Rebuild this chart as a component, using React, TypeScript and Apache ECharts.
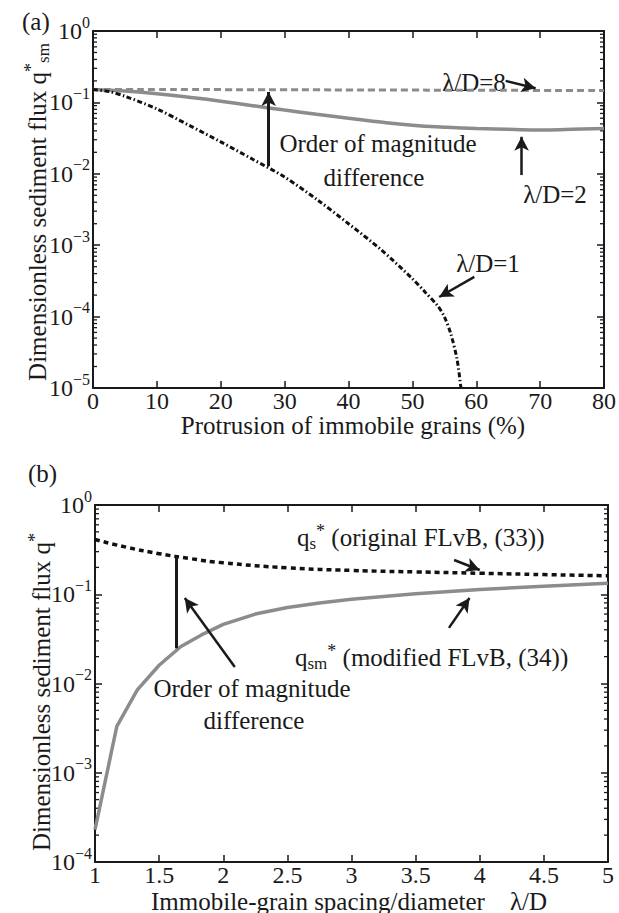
import React, { useEffect, useRef } from 'react';
import * as echarts from 'echarts';

const FONT = 'Liberation Serif';
const INK = '#1a1a1a';
const GRAY = '#8c8c8c';

// ---------- Panel (a) data ----------
const XA_L1 = [0, 2.5, 5, 10, 15, 20, 25, 30, 35, 40, 45, 50, 52, 54, 55, 56, 57, 57.6];
const QA_L1 = [0.152, 0.142, 0.122, 0.081, 0.048, 0.028, 0.016, 0.009, 0.0044, 0.002, 0.00088, 0.00034, 0.00022, 0.00014, 0.0001, 0.000058, 0.000025, 0.00001];
const XA = [0, 5, 10, 15, 20, 25, 30, 35, 40, 45, 50, 55, 60, 65, 70, 75, 80];
const QA_L2 = [0.152, 0.144, 0.132, 0.118, 0.104, 0.09, 0.078, 0.068, 0.06, 0.053, 0.048, 0.045, 0.043, 0.042, 0.041, 0.042, 0.043];
const QA_L8 = [0.152, 0.152, 0.152, 0.151, 0.151, 0.15, 0.15, 0.15, 0.149, 0.149, 0.149, 0.148, 0.148, 0.148, 0.147, 0.147, 0.147];

// ---------- Panel (b) data ----------
const XB_S = [1, 1.25, 1.5, 1.75, 2, 2.5, 3, 3.5, 4, 4.5, 5];
const QB_S = [0.41, 0.335, 0.285, 0.25, 0.225, 0.198, 0.185, 0.178, 0.172, 0.166, 0.161];
const XB_M = [1, 1.17, 1.33, 1.5, 1.67, 1.83, 2, 2.25, 2.5, 2.75, 3, 3.5, 4, 4.5, 5];
const QB_M = [0.00023, 0.0033, 0.0085, 0.016, 0.026, 0.035, 0.046, 0.06, 0.071, 0.08, 0.088, 0.101, 0.113, 0.123, 0.133];

// axis decoration
const MINOR_MULT = [2, 3, 4, 5, 6, 7, 8, 9];
const DECADES_A = [-5, -4, -3, -2, -1];
const DECADES_B = [-4, -3, -2, -1];

const pairs = (xs: number[], ys: number[]) => xs.map((x, i) => [x, ys[i]]);

const rich = {
  n: { fontSize: 25, fontFamily: FONT, color: INK, fill: INK, lineHeight: 30 },
  sup: { fontSize: 18, fontFamily: FONT, color: INK, fill: INK, verticalAlign: 'top', lineHeight: 18 },
  sub: { fontSize: 17, fontFamily: FONT, color: INK, fill: INK, verticalAlign: 'bottom', lineHeight: 17 },
};

const txt = (x: number, y: number, text: string, align = 'center', rotation = 0) => ({
  type: 'text',
  x,
  y,
  rotation,
  silent: true,
  style: {
    text,
    fill: INK,
    fontSize: 25,
    fontFamily: FONT,
    align,
    verticalAlign: 'middle',
    rich,
  },
});

const logLabel = (v: number) => {
  const n = Math.round(Math.log10(v));
  return `{b|10}{e|${n === 0 ? '0' : '\u2212' + Math.abs(n)}}`;
};

const axisLine = { show: true, onZero: false, lineStyle: { color: INK, width: 2 } };
const tick = { show: true, inside: true, length: 7, lineStyle: { color: INK, width: 1.5 } };

const xAxisPair = (grid: number, min: number, max: number, interval: number) => [
  {
    gridIndex: grid, type: 'value', min, max, interval, position: 'bottom',
    axisLine, axisTick: tick, splitLine: { show: false },
    axisLabel: { fontSize: 24, fontFamily: FONT, color: INK, margin: 1 },
  },
  {
    gridIndex: grid, type: 'value', min, max, interval, position: 'top',
    axisLine, axisTick: tick, splitLine: { show: false }, axisLabel: { show: false },
  },
];

const yAxisPair = (grid: number, min: number, decades: number) => [
  {
    gridIndex: grid, type: 'log', logBase: 10, min, max: 1, splitNumber: decades, position: 'left',
    axisLine, axisTick: tick, splitLine: { show: false },
    axisLabel: {
      margin: 3,
      fontFamily: FONT,
      formatter: logLabel,
      rich: {
        b: { fontSize: 24, fontFamily: FONT, color: INK, lineHeight: 34 },
        e: { fontSize: 16, fontFamily: FONT, color: INK, verticalAlign: 'top', lineHeight: 16 },
      },
    },
  },
  {
    gridIndex: grid, type: 'log', logBase: 10, min, max: 1, splitNumber: decades, position: 'right',
    axisLine, axisTick: tick, splitLine: { show: false }, axisLabel: { show: false },
  },
];

const minorTicks = (xAxisIndex: number, yAxisIndex: number, xMin: number, xMax: number, decades: number[]) => {
  const data: number[][] = [];
  decades.forEach((n) => MINOR_MULT.forEach((k) => data.push([xMin, k * Math.pow(10, n), xMax])));
  return {
    type: 'custom',
    xAxisIndex,
    yAxisIndex,
    silent: true,
    clip: false,
    data,
    encode: { x: 0, y: 1 },
    renderItem: (_p: any, api: any) => {
      const v = api.value(1);
      const l = api.coord([api.value(0), v]);
      const r = api.coord([api.value(2), v]);
      const st = { stroke: INK, lineWidth: 1.3 };
      return {
        type: 'group',
        children: [
          { type: 'line', shape: { x1: l[0], y1: l[1], x2: l[0] + 4, y2: l[1] }, style: st },
          { type: 'line', shape: { x1: r[0], y1: r[1], x2: r[0] - 4, y2: r[1] }, style: st },
        ],
      };
    },
  };
};

const arrow = (from: number[], to: number[], head = true, width = 2.5) => [
  { coord: from, symbol: 'none', lineStyle: { width, color: INK, type: 'solid' } },
  { coord: to, symbol: head ? 'arrow' : 'none', symbolSize: [11, 14] },
];

const markLineBase = {
  silent: true,
  animation: false,
  symbolSize: [11, 14],
  label: { show: false },
  emphasis: { disabled: true },
  lineStyle: { color: INK, width: 2.5, type: 'solid' },
};

const option = {
  animation: false,
  backgroundColor: '#fff',
  textStyle: { fontFamily: FONT },
  grid: [
    { left: 93, top: 31, width: 515, height: 357, containLabel: false },
    { left: 95, top: 505, width: 513, height: 357, containLabel: false },
  ],
  xAxis: [...xAxisPair(0, 0, 80, 10), ...xAxisPair(1, 1, 5, 0.5)],
  yAxis: [...yAxisPair(0, 1e-5, 5), ...yAxisPair(1, 1e-4, 4)],
  series: [
    minorTicks(0, 0, 0, 80, DECADES_A),
    minorTicks(2, 2, 1, 5, DECADES_B),
    {
      name: 'λ/D=8', type: 'line', xAxisIndex: 0, yAxisIndex: 0, data: pairs(XA, QA_L8),
      showSymbol: false, smooth: true, silent: true,
      lineStyle: { color: GRAY, width: 3, type: [7, 4] },
      markLine: {
        ...markLineBase,
        data: [
          arrow([64.6, 0.2], [69.3, 0.158]),
          arrow([27.5, 0.0128], [27.5, 0.14], true, 3),
          arrow([67.1, 0.0096], [67.1, 0.033]),
          arrow([59.7, 0.00036], [54.2, 0.000188]),
        ],
      },
    },
    {
      name: 'λ/D=2', type: 'line', xAxisIndex: 0, yAxisIndex: 0, data: pairs(XA, QA_L2),
      showSymbol: false, smooth: true, silent: true,
      lineStyle: { color: GRAY, width: 3.5, type: 'solid' },
    },
    {
      name: 'λ/D=1', type: 'line', xAxisIndex: 0, yAxisIndex: 0, data: pairs(XA_L1, QA_L1),
      showSymbol: false, smooth: 0.3, silent: true,
      lineStyle: { color: '#111', width: 3, type: [5, 2.5, 1.5, 2.5] },
    },
    {
      name: 'qs', type: 'line', xAxisIndex: 2, yAxisIndex: 2, data: pairs(XB_S, QB_S),
      showSymbol: false, smooth: true, silent: true,
      lineStyle: { color: '#111', width: 3.5, type: [5, 4] },
      markLine: {
        ...markLineBase,
        data: [
          arrow([3.8, 0.242], [4.0, 0.187]),
          arrow([3.76, 0.042], [3.92, 0.0908]),
          arrow([1.637, 0.0248], [1.637, 0.264], false, 3),
          arrow([2.09, 0.0153], [1.7, 0.0908]),
        ],
      },
    },
    {
      name: 'qsm', type: 'line', xAxisIndex: 2, yAxisIndex: 2, data: pairs(XB_M, QB_M),
      showSymbol: false, smooth: false, silent: true,
      lineStyle: { color: GRAY, width: 3.5, type: 'solid' },
    },
  ],
  graphic: [
    txt(22, 21, '(a)', 'left'),
    txt(28, 473, '(b)', 'left'),
    txt(37, 212, '{n|Dimensionless sediment flux q}{sup|*}{sub|sm}', 'center', Math.PI / 2),
    txt(41, 692, '{n|Dimensionless sediment flux q}{sup|*}', 'center', Math.PI / 2),
    txt(353, 425, 'Protrusion of immobile grains (%)'),
    txt(349, 901, 'Immobile-grain spacing/diameter\u00a0\u00a0\u00a0\u00a0λ/D'),
    txt(474, 82, 'λ/D=8'),
    txt(378, 143, 'Order of magnitude'),
    txt(374, 177, 'difference'),
    txt(555, 194, 'λ/D=2'),
    txt(488, 263, 'λ/D=1'),
    txt(297, 537, '{n|q}{sub|s}{sup|*}{n| (original FLvB, (33))}', 'left'),
    txt(295, 657, '{n|q}{sub|sm}{sup|*}{n| (modified FLvB, (34))}', 'left'),
    txt(252, 688, 'Order of magnitude'),
    txt(254, 720, 'difference'),
  ],
};

export default function App() {
  const ref = useRef<HTMLDivElement>(null);
  useEffect(() => {
    const chart = echarts.init(ref.current as HTMLDivElement, null, { renderer: 'svg' });
    chart.setOption(option as any);
    return () => chart.dispose();
  }, []);
  return (
    <div
      ref={ref}
      style={{ position: 'fixed', left: 0, top: 0, width: 619, height: 913, background: '#fff' }}
    />
  );
}
